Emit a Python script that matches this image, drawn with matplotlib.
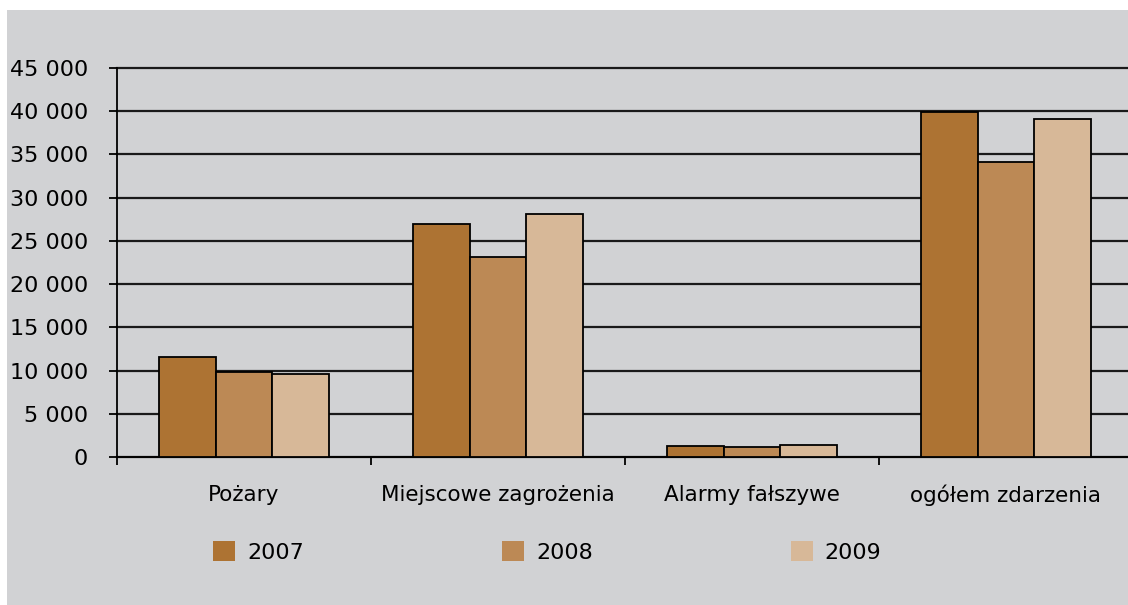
import matplotlib.pyplot as plt
from matplotlib.patches import Rectangle
from matplotlib.ticker import FuncFormatter, FixedLocator
import numpy as np

categories = ['Pożary', 'Miejscowe zagrożenia', 'Alarmy fałszywe', 'ogółem zdarzenia']
years = ['2007', '2008', '2009']
v2007 = [11600, 27000, 1300, 39900]
v2008 = [9800, 23100, 1200, 34100]
v2009 = [9650, 28100, 1350, 39100]
colors = ['#AD7333', '#BC8955', '#D7B898']

W, H = 1128, 605
fig = plt.figure(figsize=(W / 100, H / 100), dpi=100)
fig.patch.set_facecolor('white')
# grey panel behind everything
fig.patches.append(Rectangle((7 / W, 0), 1, (H - 10) / H, transform=fig.transFigure,
                             facecolor='#D1D2D4', edgecolor='none', zorder=-10))

ax = fig.add_axes([117 / W, (H - 457) / H, (1133 - 117) / W, (457 - 68) / H])
ax.set_facecolor('none')

x = np.arange(len(categories))
bw = 0.222
for i, (vals, c) in enumerate(zip([v2007, v2008, v2009], colors)):
    ax.bar(x + (i - 1) * bw, vals, bw, color=c, edgecolor='black', linewidth=1.3,
           label=years[i], zorder=3)

ax.set_xlim(-0.5, len(categories) - 0.5)
ax.set_ylim(0, 45000)
ax.set_yticks(np.arange(0, 45001, 5000))
ax.yaxis.set_major_formatter(FuncFormatter(lambda v, p: f'{int(v):,}'.replace(',', ' ')))
ax.yaxis.grid(True, color='#1a1a1a', linewidth=1.6, zorder=1)
ax.set_axisbelow(True)
for gl in ax.get_ygridlines():
    gl.set_clip_on(False)

ax.xaxis.set_major_locator(FixedLocator(np.arange(-0.5, len(categories), 1.0)))
ax.xaxis.set_minor_locator(FixedLocator(x))
ax.set_xticklabels([])
ax.set_xticklabels(categories, minor=True)
ax.tick_params(axis='x', which='major', length=6, width=1.3, color='black')
ax.tick_params(axis='x', which='minor', length=0, pad=20, labelsize=15.5)
ax.tick_params(axis='y', length=6, width=1.3, pad=15, labelsize=16)

for s in ['top', 'right']:
    ax.spines[s].set_visible(False)
ax.spines['left'].set_linewidth(1.3)
ax.spines['bottom'].set_linewidth(1.3)

leg = fig.legend(loc='center left', bbox_to_anchor=(193 / W, 1 - 552 / H), ncol=3,
                 frameon=False, fontsize=16, handlelength=1.0, handleheight=1.0,
                 handletextpad=0.54, columnspacing=8.9)
for h in leg.legend_handles:
    h.set_edgecolor('none')

fig.savefig('out.png', dpi=100)
